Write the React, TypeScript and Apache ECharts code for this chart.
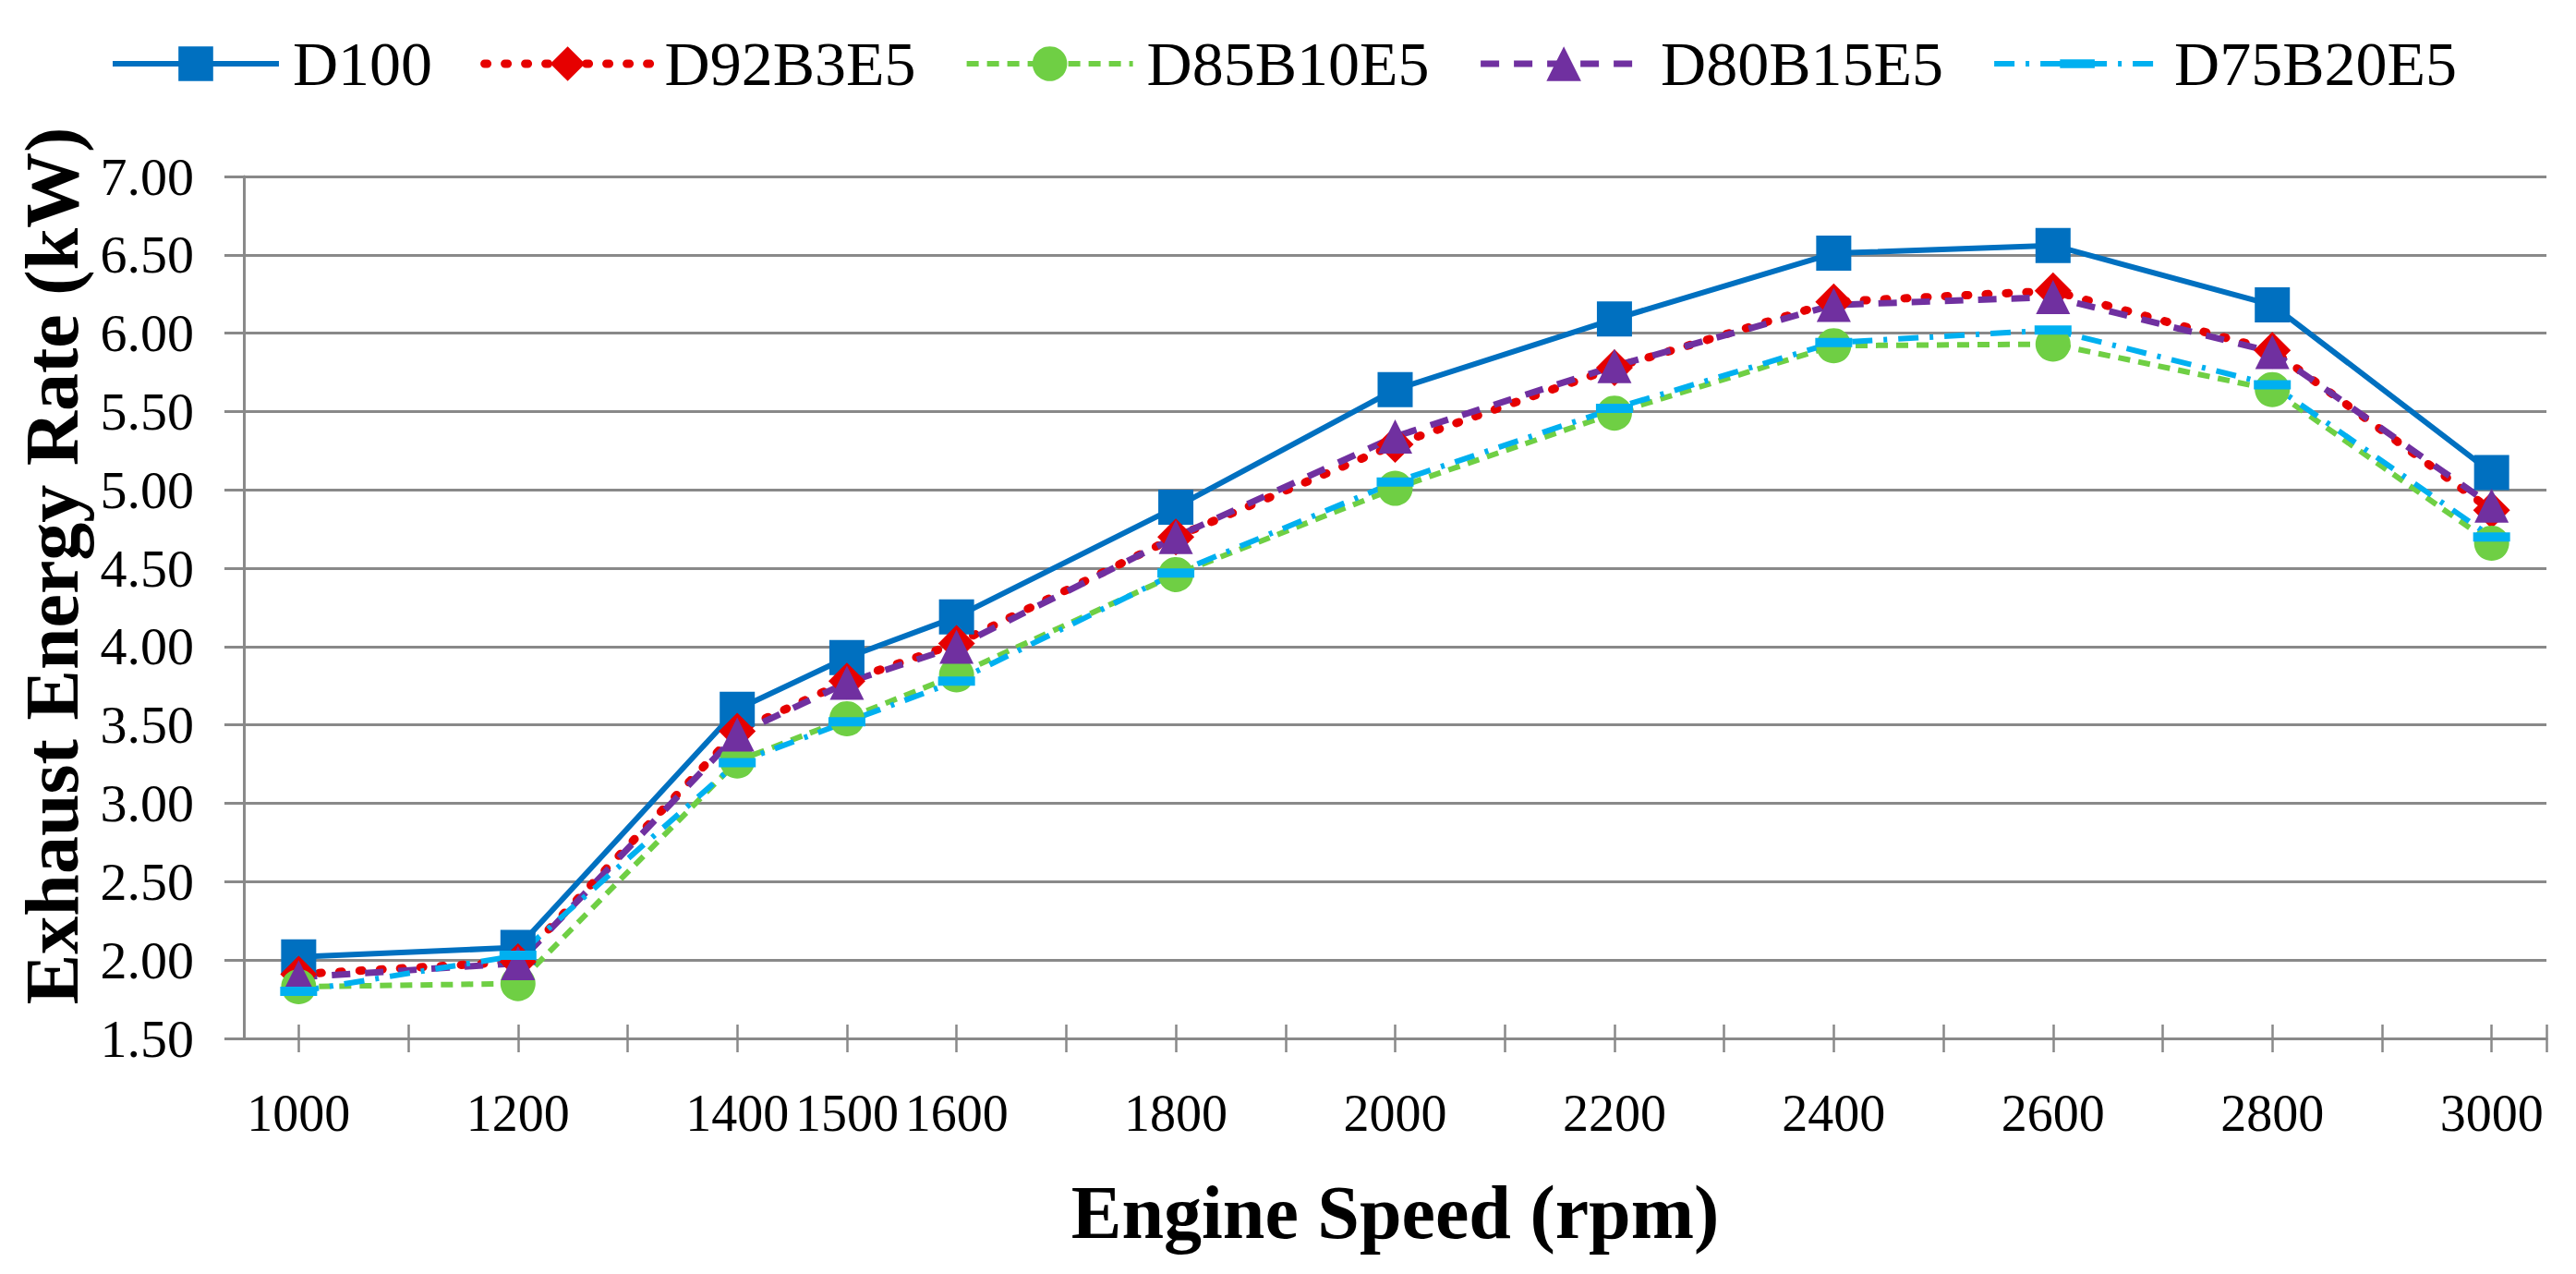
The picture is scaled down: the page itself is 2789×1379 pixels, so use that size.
import React, { useEffect, useRef } from "react";
import * as echarts from "echarts";

const speeds = [1000, 1200, 1400, 1500, 1600, 1800, 2000, 2200, 2400, 2600, 2800, 3000];
const seriesNames = ["D100", "D92B3E5", "D85B10E5", "D80B15E5", "D75B20E5"];
const d100 = [2.02, 2.08, 3.6, 3.93, 4.19, 4.89, 5.64, 6.09, 6.51, 6.56, 6.18, 5.11];
const d92b3e5 = [1.91, 1.99, 3.46, 3.78, 4.02, 4.7, 5.29, 5.78, 6.2, 6.27, 5.89, 4.87];
const d85b10e5 = [1.83, 1.85, 3.27, 3.54, 3.82, 4.46, 5.01, 5.49, 5.92, 5.93, 5.64, 4.66];
const d80b15e5 = [1.89, 1.98, 3.44, 3.77, 4.0, 4.7, 5.34, 5.79, 6.18, 6.23, 5.88, 4.9];
const d75b20e5 = [1.8, 2.03, 3.26, 3.52, 3.78, 4.47, 5.05, 5.52, 5.94, 6.02, 5.67, 4.7];
const xTickValues = [1000, 1100, 1200, 1300, 1400, 1500, 1600, 1700, 1800, 1900, 2000, 2100, 2200, 2300, 2400, 2500, 2600, 2700, 2800, 2900, 3000, 3050];

const FONT = "'Liberation Serif', 'Times New Roman', serif";
const GRAY = "#898989";

const COLORS = ["#0070C0", "#E60000", "#6FCF44", "#7030A0", "#00B0F0"];
const WIDTHS = [6, 9, 6, 7, 6];
const DASHES: any[] = ["solid", [3, 19], [13, 9], [20, 16], [22, 12, 4, 12]];
const CAPS = ["butt", "round", "butt", "butt", "butt"];
const SYMBOLS = ["rect", "diamond", "circle", "triangle", "path://M0,0M40,40M0,15h40v10h-40z"];
const SYMBOL_SIZES = [38, 40, 38, 37, 40];
const VALUES = [d100, d92b3e5, d85b10e5, d80b15e5, d75b20e5];

const pts = (vals: number[]) => speeds.map((s, i) => [s, vals[i]]);

export default function App() {
  const ref = useRef<HTMLDivElement>(null);
  useEffect(() => {
    const chart = echarts.init(ref.current as HTMLDivElement, null, { renderer: "svg" });
    const option: any = {
      animation: false,
      backgroundColor: "#ffffff",
      textStyle: { fontFamily: FONT, color: "#000" },
      legend: {
        top: 30,
        left: 114,
        itemWidth: 180,
        itemHeight: 47,
        itemGap: 52,
        lineStyle: { width: "inherit" },
        textStyle: { fontFamily: FONT, fontSize: 68, color: "#000", padding: [0, 0, 0, 10] },
        data: seriesNames.map((n, i) => ({
          name: n,
          lineStyle: { width: WIDTHS[i], color: COLORS[i], type: DASHES[i], cap: CAPS[i] },
        })),
      },
      grid: { left: 264, right: 32, top: 191, bottom: 255, containLabel: false },
      xAxis: [
        {
          type: "value",
          min: 950,
          max: 3050,
          position: "bottom",
          name: "Engine Speed (rpm)",
          nameLocation: "middle",
          nameGap: 147,
          nameTextStyle: { fontFamily: FONT, fontSize: 82, fontWeight: "bold", color: "#000" },
          axisLine: { show: true, lineStyle: { color: GRAY, width: 3 } },
          axisTick: { show: true, length: 15, customValues: xTickValues, lineStyle: { color: GRAY, width: 2.5 } },
          axisLabel: {
            show: true,
            customValues: speeds,
            margin: 53,
            fontFamily: FONT,
            fontSize: 56,
            color: "#000",
            formatter: (v: number) => String(v),
          },
          splitLine: { show: false },
        },
        {
          type: "value",
          min: 950,
          max: 3050,
          position: "bottom",
          axisLine: { show: false },
          axisTick: { show: true, inside: true, length: 15, customValues: xTickValues, lineStyle: { color: GRAY, width: 2.5 } },
          axisLabel: { show: false },
          splitLine: { show: false },
        },
      ],
      yAxis: {
        type: "value",
        min: 1.5,
        max: 7,
        interval: 0.5,
        name: "Exhaust Energy Rate (kW)",
        nameLocation: "middle",
        nameGap: 165,
        nameRotate: 90,
        nameTextStyle: {
          fontFamily: FONT,
          fontSize: 82,
          fontWeight: "bold",
          color: "#000",
          padding: [0, 0, 0, 90],
        },
        axisLine: { show: true, lineStyle: { color: GRAY, width: 3 } },
        axisTick: { show: true, length: 21, lineStyle: { color: GRAY, width: 3 } },
        axisLabel: {
          margin: 54,
          fontFamily: FONT,
          fontSize: 58,
          color: "#000",
          formatter: (v: number) => v.toFixed(2),
        },
        splitLine: { show: true, lineStyle: { color: GRAY, width: 3 } },
      },
      series: seriesNames.map((n, i) => ({
        name: n,
        type: "line",
        data: pts(VALUES[i]),
        symbol: SYMBOLS[i],
        symbolSize: SYMBOL_SIZES[i],
        itemStyle: { color: COLORS[i] },
        lineStyle: { color: COLORS[i], width: WIDTHS[i], type: DASHES[i], cap: CAPS[i] },
      })),
    };
    chart.setOption(option);
    return () => chart.dispose();
  }, []);
  return (
    <div
      ref={ref}
      style={{ position: "fixed", left: 0, top: 0, width: 2789, height: 1379, background: "#fff" }}
    />
  );
}
